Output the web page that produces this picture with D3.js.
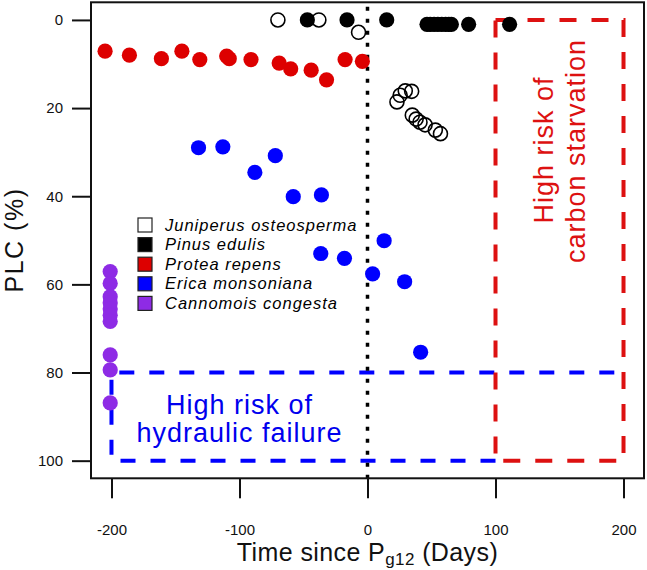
<!DOCTYPE html>
<html>
<head>
<meta charset="utf-8">
<script src="https://cdn.jsdelivr.net/npm/d3@7"></script>
<style>
  body { margin: 0; background: #fff; }
  svg { display: block; font-family: "Liberation Sans", Arial, sans-serif; }
</style>
</head>
<body>
<svg id="chart" width="647" height="570"></svg>
<script>
// species names (legend order)
const species = ["Juniperus osteosperma", "Pinus edulis", "Protea repens", "Erica monsoniana", "Cannomois congesta"];
const colors = ["none", "#000000", "#dd0000", "#0000ff", "#8e2be5"];

// [days since Pg12, PLC %]
const juniperus = [[-70, 0], [-38, 0], [-7, 2.8], [23, 18.6], [25.5, 17.1], [29.5, 16.1], [34.5, 16.2],
    [35, 21.6], [38, 22.5], [41, 23.2], [45, 23.8], [53, 25.0], [57, 25.8]];
const pinus = [[-47, 0], [-16, 0], [15, 0], [46.5, 1], [49, 1], [52, 1], [55, 1], [58, 1], [61, 1],
    [63.5, 1], [65.5, 1], [79, 1], [111, 1]];
const protea = [[-205, 7.1], [-186, 8.0], [-161, 8.8], [-145, 7.1], [-131, 9.0], [-110, 8.2], [-108, 8.8],
    [-91, 9.0], [-69, 9.8], [-60, 11.1], [-44, 11.4], [-32, 13.6], [-17.5, 9.0], [-4, 9.4]];
const erica = [[-132, 29.0], [-113, 28.8], [-88, 34.6], [-72, 30.8], [-58, 40.1], [-36, 39.7], [-36.5, 53.0],
    [-18, 54.1], [13, 50.1], [4, 57.6], [29, 59.4], [41.5, 75.4]];
const cannomois = [[-201, 57.1], [-201, 59.8], [-201, 62.8], [-201, 64.2], [-201, 65.6], [-201, 67.0],
    [-201, 68.4], [-201, 76.0], [-201, 79.4], [-201, 86.9]];

const xTicks = [-200, -100, 0, 100, 200];
const yTicks = [0, 20, 40, 60, 80, 100];

const svg = d3.select('#chart');

const x = d3.scaleLinear().domain([-216, 216]).range([91, 644]);
const y = d3.scaleLinear().domain([-4, 104]).range([2.3, 478.3]);

// axes
const yAxis = svg.append('g')
    .attr('transform', `translate(${x(-216)},0)`)
    .call(d3.axisLeft(y).tickValues(yTicks).tickSizeInner(19).tickSizeOuter(0).tickPadding(9));
const xAxis = svg.append('g')
    .attr('transform', `translate(0,${y(104)})`)
    .call(d3.axisBottom(x).tickValues(xTicks).tickFormat(d3.format('d')).tickSizeInner(20).tickSizeOuter(0).tickPadding(26));
[xAxis, yAxis].forEach(a => {
    a.select('.domain').remove();
    a.selectAll('.tick line').attr('stroke', '#111').attr('stroke-width', 2);
    a.selectAll('.tick text').attr('font-size', 15).attr('fill', '#111')
        .attr('font-family', '"Liberation Sans", Arial, sans-serif');
});
xAxis.selectAll('.tick text').text(d => d < 0 ? '-' + Math.abs(d) : d);

// risk boxes: blue (hydraulic) under red (carbon)
const blue = d3.path();
blue.moveTo(x(100), y(100));
blue.lineTo(x(-200), y(100));
blue.lineTo(x(-200), y(80));
blue.lineTo(x(200), y(80));
svg.append('path')
    .attr('d', blue.toString())
    .attr('fill', 'none').attr('stroke', '#0000ff').attr('stroke-width', 4)
    .attr('stroke-dasharray', '15,15');
svg.append('rect')
    .attr('x', x(100)).attr('y', y(0))
    .attr('width', x(200) - x(100)).attr('height', y(100) - y(0))
    .attr('fill', 'none').attr('stroke', '#dd1111').attr('stroke-width', 4)
    .attr('stroke-dasharray', '17,15');

// dotted line at 0
svg.append('line')
    .attr('x1', x(0)).attr('x2', x(0)).attr('y1', y(-3)).attr('y2', y(104))
    .attr('stroke', '#000').attr('stroke-width', 3.5)
    .attr('stroke-dasharray', '4,8');

// points
const series = [juniperus, pinus, protea, erica, cannomois];
series.forEach((pts, i) => {
    svg.append('g').selectAll('circle')
        .data(pts)
        .join('circle')
        .attr('cx', d => x(d[0]))
        .attr('cy', d => y(d[1]))
        .attr('r', i === 0 ? 7 : 7.6)
        .attr('fill', colors[i])
        .attr('stroke', i === 0 ? '#000' : 'none')
        .attr('stroke-width', 1.6);
});

// box
svg.append('rect')
    .attr('x', x(-216)).attr('y', y(-4))
    .attr('width', x(216) - x(-216)).attr('height', y(104) - y(-4))
    .attr('fill', 'none').attr('stroke', '#111').attr('stroke-width', 2);

// legend
const legend = svg.append('g').attr('transform', 'translate(145,225)');
species.forEach((s, i) => {
    legend.append('rect')
        .attr('x', -7).attr('y', i * 19.6 - 7)
        .attr('width', 14).attr('height', 14)
        .attr('fill', i === 0 ? '#fff' : colors[i])
        .attr('stroke', '#222').attr('stroke-width', 1.2);
    legend.append('text')
        .attr('x', 20).attr('y', i * 19.6 + 5.5)
        .attr('font-size', 16.5).attr('font-style', 'italic')
        .attr('letter-spacing', 1)
        .text(s);
});

// annotations
const blueText = svg.append('text')
    .attr('text-anchor', 'middle').attr('fill', '#0000ee').attr('font-size', 27)
    .attr('letter-spacing', 1);
blueText.append('tspan').attr('x', x(-100)).attr('y', 414).text('High risk of');
blueText.append('tspan').attr('x', x(-100)).attr('y', 442).text('hydraulic failure');

const redText = svg.append('text')
    .attr('text-anchor', 'middle').attr('fill', '#dd1111').attr('font-size', 27)
    .attr('letter-spacing', 1)
    .attr('transform', 'rotate(-90)');
redText.append('tspan').attr('x', -150).attr('y', 553).text('High risk of');
redText.append('tspan').attr('x', -151).attr('y', 585).text('carbon starvation');

// axis titles
svg.append('text')
    .attr('transform', 'translate(23,240) rotate(-90)')
    .attr('text-anchor', 'middle').attr('font-size', 25).attr('fill', '#111')
    .attr('letter-spacing', 1.5)
    .text('PLC (%)');

const xt = svg.append('text')
    .attr('x', x(0)).attr('y', 561)
    .attr('text-anchor', 'middle').attr('font-size', 25).attr('fill', '#111')
    .attr('letter-spacing', 0.4);
xt.append('tspan').text('Time since P');
xt.append('tspan').attr('font-size', 17).attr('dy', 4).text('g12');
xt.append('tspan').attr('dy', -4).text(' (Days)');
</script>
</body>
</html>
